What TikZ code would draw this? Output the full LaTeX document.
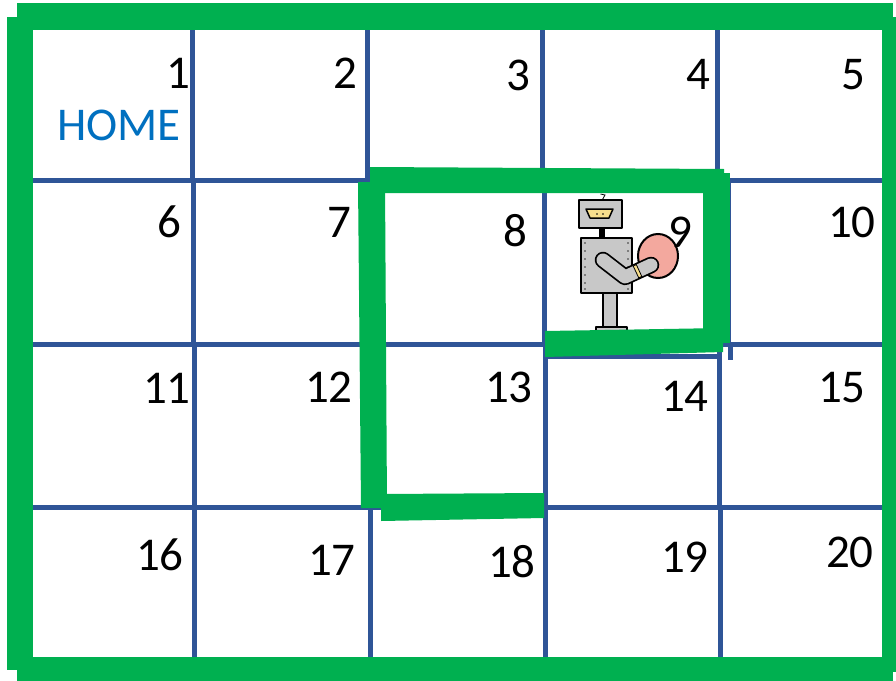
\documentclass[tikz,border=0pt]{standalone}
\usepackage{fontspec}
\setmainfont{Carlito}
\definecolor{wallgreen}{RGB}{0,176,80}
\definecolor{gridblue}{RGB}{47,85,151}
\definecolor{homeblue}{RGB}{0,112,192}
\definecolor{robotgray}{RGB}{200,200,200}
\definecolor{faceyellow}{RGB}{247,222,140}
\definecolor{ballpink}{RGB}{243,168,158}
\begin{document}
\begin{tikzpicture}[x=1pt,y=-1pt,
  gridline/.style={draw=gridblue,line width=5pt},
  wall/.style={fill=wallgreen},
  num/.style={anchor=base east,inner sep=0pt,font=\fontsize{47}{47}\selectfont},
  part/.style={draw=black,line width=1.5pt,fill=robotgray,line join=round},
  rivet/.style={fill=black!80}]
\useasboundingbox (0,0) rectangle (896,680);
\fill[white] (0,0) rectangle (896,680);

% grid: horizontal separators
\draw[gridline] (33,180) -- (882,180);
\draw[gridline] (33,344) -- (882,344);
\draw[gridline] (545,356) -- (719,356);
\draw[gridline] (33,507) -- (882,507);
% grid: vertical separators, row by row
\foreach \x in {192,367,542,717} \draw[gridline] (\x,30) -- (\x,180);
\foreach \x in {193,370,544,728} \draw[gridline] (\x,180) -- (\x,344);
\foreach \x in {194,370,545,719} \draw[gridline] (\x,344) -- (\x,507);
\foreach \x in {194,370,545,720} \draw[gridline] (\x,507) -- (\x,657);
\draw[gridline] (730,344) -- (730,360);

% robot in square 9
\draw[line width=0.8pt] (600.5,194) -- (605,195) -- (602.5,199.5);
\draw[part] (579,200) rectangle (622,228);
\draw[line width=1.5pt,fill=faceyellow,line join=round]
  (586,209) -- (613,209) -- (609,218) -- (590,218) -- cycle;
\fill (597,214) circle (0.9);
\fill (603,214) circle (0.9);
\fill[black] (599,228) rectangle (605,238);
\draw[part] (603,293) rectangle (617,327);
\draw[part] (596,327) rectangle (627,334);
\draw[part] (581,238) rectangle (632,293);
\foreach \y in {243,251,259,267,275,283,289} {
  \fill[rivet] (585,\y) circle (0.9);
  \fill[rivet] (628,\y) circle (0.9);
}
\draw[line width=2pt,fill=ballpink] (658,256) ellipse (20 and 22);
\draw[line width=16.5pt,line cap=round,line join=round] (603,260) -- (625,277) -- (651,265);
\draw[robotgray,line width=13pt,line cap=round,line join=round] (603,260) -- (625,277) -- (651,265);
\draw[line width=0.8pt,fill=faceyellow]
  (641.8,276.4) -- (636.3,264.6) -- (633.2,266.0) -- (638.7,277.8) -- cycle;

% outer wall
\fill[wall] (17,3) -- (893,3) -- (893,30) -- (17,30) -- cycle;
\fill[wall] (7,17) -- (33,17) -- (33,670) -- (7,670) -- cycle;
\fill[wall] (17,657) -- (893,657) -- (893,682) -- (17,682) -- cycle;
\fill[wall] (882,17) -- (897,17) -- (897,672) -- (882,672) -- cycle;

% inner wall around squares 8, 9 and 13
\fill[wall] (370,167) -- (724,169) -- (724,193) -- (370,193) -- cycle;
\fill[wall] (358,182) -- (385,182) -- (387,508) -- (361,508) -- cycle;
\fill[wall] (381,494) -- (544,493) -- (544,518) -- (381,521) -- cycle;
\fill[wall] (703,173) -- (730,173) -- (730,343) -- (703,343) -- cycle;
\fill[wall] (545,331) -- (723,328) -- (723,352) -- (545,357) -- cycle;

% square numbers
\foreach \n/\x/\y in {1/191/88, 2/358/88, 3/531/90, 4/711/89, 5/866/89,
                      6/182/237, 7/352/237, 8/528/246, 9/693/247, 10/876/237,
                      11/191/403, 12/353/402, 13/533/402, 14/709/411, 15/866/402,
                      16/184/570, 17/356/575, 18/536/577, 19/709/572, 20/874/567}
  \node[num] (n\n) at (\x,\y) {\n};
\node[anchor=base west,inner sep=0pt,text=homeblue,font=\fontsize{47}{47}\selectfont]
  (home) at (57,140) {HOME};
\end{tikzpicture}
\end{document}
